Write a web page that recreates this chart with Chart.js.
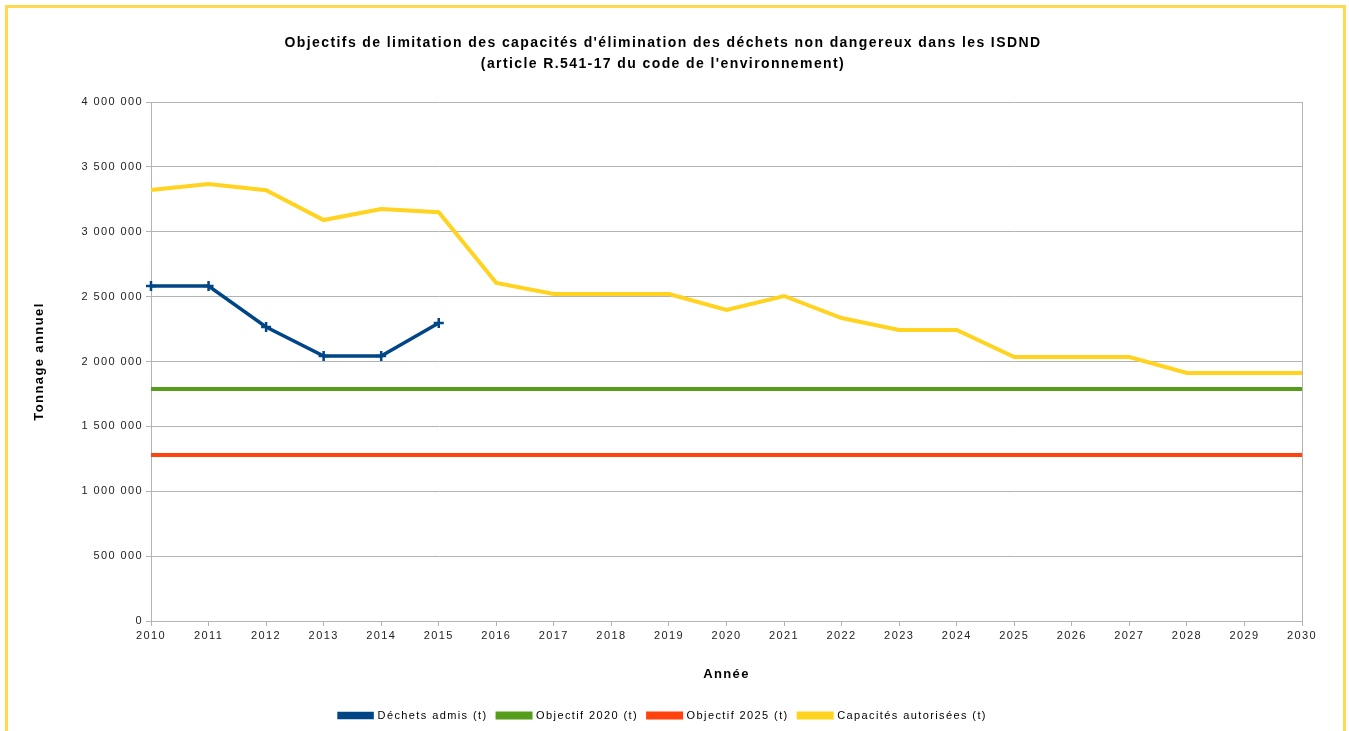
<!DOCTYPE html>
<html lang="fr">
<head>
<meta charset="utf-8">
<title>Objectifs de limitation des capacités d'élimination des déchets non dangereux</title>
<script src="https://cdn.jsdelivr.net/npm/chart.js@4.4.1/dist/chart.umd.min.js"></script>
<style>
  html, body { margin: 0; padding: 0; background: #fff; overflow: hidden; }
  .frame {
    position: absolute; left: 5px; top: 5px;
    width: 1341px; height: 740px;
    box-sizing: border-box;
    border: 3px solid #ffd94f;
  }
  .chart-box { position: absolute; left: 0; top: 0; width: 1335px; height: 723px; }
</style>
</head>
<body>
<div class="frame">
  <div class="chart-box"><canvas id="isdnd-chart"></canvas></div>
</div>
<script>
;(function(){
  // years on the x axis
  const annees = ['2010', '2011', '2012', '2013', '2014', '2015', '2016', '2017', '2018', '2019', '2020',
    '2021', '2022', '2023', '2024', '2025', '2026', '2027', '2028', '2029', '2030']

  // tonnages (t / an)
  const dechetsAdmis = [2582000, 2582000, 2266000, 2042000, 2042000, 2297000]
  const objectif2020 = 1788000
  const objectif2025 = 1279000
  const capacitesAutorisees = [3322000, 3368000, 3320000, 3090000, 3175000, 3150000, 2605000, 2520000,
    2520000, 2520000, 2397000, 2505000, 2335000, 2243000, 2243000, 2035000, 2035000, 2035000,
    1911000, 1911000, 1911000]

  const yTicks = { min: 0, max: 4000000, step: 500000 }

  const grille = '#b3b3b3'
  const police = 'Liberation Sans, Arial, sans-serif'

  // 4 000 000 style
  const fmt = (v) => String(Math.round(v)).replace(/\B(?=(\d{3})+(?!\d))/g, ' ')

  // the original text is spread out a bit, like an exported office chart
  const espacement = {
    id: 'espacement',
    beforeUpdate: (chart) => { chart.ctx.letterSpacing = '1.4px' },
    beforeDraw: (chart) => { chart.ctx.letterSpacing = '1.4px' },
  }

  const ctx = document.getElementById('isdnd-chart')

  new Chart(ctx, {
    type: 'line',
    data: {
      labels: annees,
      datasets: [
        {
          label: 'Déchets admis (t)',
          data: dechetsAdmis,
          borderColor: '#004586',
          backgroundColor: '#004586',
          borderWidth: 3.5,
          pointStyle: 'cross',
          pointRadius: 5,
          pointBorderWidth: 2.5,
          tension: 0,
        },
        {
          label: 'Objectif 2020 (t)',
          data: annees.map(() => objectif2020),
          borderColor: '#579d1c',
          backgroundColor: '#579d1c',
          borderWidth: 4,
          pointRadius: 0,
        },
        {
          label: 'Objectif 2025 (t)',
          data: annees.map(() => objectif2025),
          borderColor: '#ff420e',
          backgroundColor: '#ff420e',
          borderWidth: 4,
          pointRadius: 0,
        },
        {
          label: 'Capacités autorisées (t)',
          data: capacitesAutorisees,
          borderColor: '#ffd320',
          backgroundColor: '#ffd320',
          borderWidth: 4,
          pointRadius: 0,
          tension: 0,
        },
      ],
    },
    plugins: [espacement],
    options: {
      responsive: true,
      maintainAspectRatio: false,
      animation: false,
      layout: { padding: { left: 16, right: 41, top: 0, bottom: 0 } },
      plugins: {
        title: {
          display: true,
          text: ['Objectifs de limitation des capacités d\'élimination des déchets non dangereux dans les ISDND',
                 '(article R.541-17 du code de l\'environnement)'],
          color: '#000',
          font: { family: police, size: 14, weight: 'bold', lineHeight: 1.5 },
          padding: { top: 25, bottom: 27 },
        },
        legend: {
          position: 'bottom',
          labels: {
            color: '#000',
            font: { family: police, size: 11 },
            boxWidth: 33,
            boxHeight: 4,
            padding: 10,
          },
        },
        tooltip: { enabled: false },
      },
      scales: {
        x: {
          offset: false,
          grid: {
            color: (c) => (c.index === annees.length - 1 ? grille : 'rgba(0,0,0,0)'),
            tickColor: grille,
            tickLength: 5,
          },
          border: { color: grille },
          ticks: {
            color: '#222',
            font: { family: police, size: 11 },
            maxRotation: 0,
            autoSkip: false,
            padding: 3,
          },
          title: {
            display: true,
            text: 'Année',
            color: '#000',
            font: { family: police, size: 13, weight: 'bold' },
            padding: { top: 20, bottom: 18 },
          },
          afterFit: (s) => { s.height = 79 },
        },
        y: {
          min: yTicks.min,
          max: yTicks.max,
          grid: { color: grille, tickColor: grille, tickLength: 5 },
          border: { color: grille },
          ticks: {
            stepSize: yTicks.step,
            color: '#222',
            font: { family: police, size: 11 },
            padding: 3,
            callback: (v) => fmt(v),
          },
          title: {
            display: true,
            text: 'Tonnage annuel',
            color: '#000',
            font: { family: police, size: 13, weight: 'bold' },
            padding: { top: 8, bottom: 8 },
          },
          afterFit: (s) => { s.width = 127 },
        },
      },
    },
  })
})()
</script>
</body>
</html>
